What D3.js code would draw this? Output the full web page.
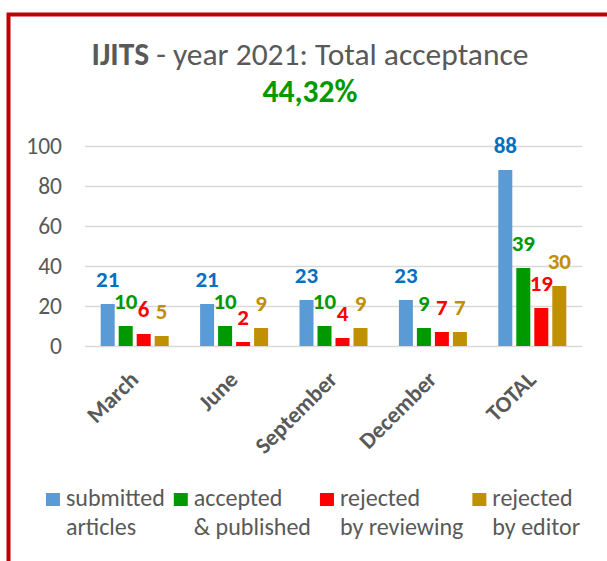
<!DOCTYPE html>
<html lang="en"><head>
<meta charset="UTF-8">
<title>IJITS 2021</title>
<script src="https://cdn.jsdelivr.net/npm/d3@7"></script>
<style>
  body { margin: 0; background: #fff; }
  svg { font-family: Carlito, Lato, sans-serif; }
</style>
</head>
<body>
<div id="chart"></div>
<script>

// values
var categories = ["March", "June", "September", "December", "TOTAL"];
var submitted = [21, 21, 23, 23, 88];
var accepted = [10, 10, 10, 9, 39];
var rejectedReviewing = [6, 2, 4, 7, 19];
var rejectedEditor = [5, 9, 9, 7, 30];
var seriesKeys = ["submitted", "accepted", "rejectedReviewing", "rejectedEditor"];
var legendLines = [["submitted", "articles"], ["accepted", "& published"],
                   ["rejected", "by reviewing"], ["rejected", "by editor"]];
var yTicks = [0, 20, 40, 60, 80, 100];

var barColors = ["#5B9BD5", "#009900", "#FF0000", "#BF9000"];
var labelColors = ["#0070C0", "#009900", "#FF0000", "#BF9000"];
var textGrey = "#595959";

var width = 607, height = 561;

var rows = categories.map(function (c, i) {
  return {cat: c, submitted: submitted[i], accepted: accepted[i],
          rejectedReviewing: rejectedReviewing[i], rejectedEditor: rejectedEditor[i]};
});

var svg = d3.select("#chart").append("svg")
    .attr("width", width)
    .attr("height", height);

// red frame (only the left and top edges are inside the picture)
svg.append("path")
    .attr("d", "M8.5," + height + "V14.5H" + width)
    .attr("fill", "none")
    .attr("stroke", "#C00000")
    .attr("stroke-width", 4);

// title
var title = svg.append("text")
    .attr("x", 310).attr("y", 65)
    .attr("text-anchor", "middle")
    .attr("font-size", 31.5)
    .attr("fill", textGrey);
title.append("tspan").attr("font-weight", "bold").text("IJITS");
title.append("tspan").text(" - year 2021: Total acceptance");

svg.append("text")
    .attr("x", 310).attr("y", 102)
    .attr("text-anchor", "middle")
    .attr("font-size", 31.5)
    .attr("font-weight", "bold")
    .attr("fill", "#009900")
    .text("44,32%");

// scales
var x0 = d3.scaleBand().domain(categories).range([85, 582]).padding(0);
var x1 = d3.scaleBand().domain(seriesKeys).range([-34, 34]).paddingInner(4 / 18).paddingOuter(0);
var y = d3.scaleLinear().domain([0, 100]).range([346, 146]);

// y axis + gridlines
var yAxis = svg.append("g")
    .attr("transform", "translate(85,0)")
    .call(d3.axisLeft(y).tickValues(yTicks).tickSize(-497).tickPadding(23));
yAxis.select(".domain").remove();
yAxis.selectAll(".tick line").attr("stroke", "#D9D9D9").attr("stroke-width", 1.5);
yAxis.selectAll(".tick text")
    .attr("fill", textGrey)
    .attr("font-size", 23.5)
    .attr("font-family", "Carlito, Lato, sans-serif");

// x axis, rotated labels
var xAxis = svg.append("g")
    .attr("transform", "translate(0,346)")
    .call(d3.axisBottom(x0).tickSize(0));
xAxis.select(".domain").remove();
xAxis.selectAll(".tick text")
    .attr("x", 0).attr("y", 0).attr("dy", 0)
    .attr("transform", "translate(5,35) rotate(-45)")
    .attr("text-anchor", "end")
    .attr("fill", textGrey)
    .attr("font-size", 23)
    .attr("font-weight", "bold")
    .attr("font-family", "Carlito, Lato, sans-serif");

// bars
var groups = svg.selectAll(".cat").data(rows).enter().append("g")
    .attr("class", "cat")
    .attr("transform", function (d) { return "translate(" + (x0(d.cat) + x0.bandwidth() / 2) + ",0)"; });

groups.selectAll("rect")
    .data(function (d) { return seriesKeys.map(function (k) { return {key: k, value: d[k]}; }); })
    .enter().append("rect")
    .attr("x", function (d) { return x1(d.key); })
    .attr("y", function (d) { return y(d.value); })
    .attr("width", x1.bandwidth())
    .attr("height", function (d) { return y(0) - y(d.value); })
    .attr("fill", function (d, i) { return barColors[i]; });

groups.selectAll(".lbl")
    .data(function (d) { return seriesKeys.map(function (k) { return {key: k, value: d[k]}; }); })
    .enter().append("text")
    .attr("class", "lbl")
    .attr("x", function (d) { return x1(d.key) + x1.bandwidth() / 2; })
    .attr("y", function (d) { return y(d.value) - 17; })
    .attr("text-anchor", "middle")
    .attr("font-size", 23)
    .attr("font-weight", "bold")
    .attr("fill", function (d, i) { return labelColors[i]; })
    .text(function (d) { return d.value; });

// legend, laid out left to right then centred
var legend = svg.append("g");
var cursor = 0;
legendLines.forEach(function (lines, i) {
  var item = legend.append("g").attr("transform", "translate(" + cursor + ",0)");
  item.append("rect")
      .attr("x", 0).attr("y", -13)
      .attr("width", 14).attr("height", 13)
      .attr("fill", barColors[i]);
  var t = item.append("text")
      .attr("x", 20).attr("y", 0)
      .attr("font-size", 24)
      .attr("fill", textGrey);
  t.selectAll("tspan").data(lines).enter().append("tspan")
      .attr("x", 20)
      .attr("dy", function (d, j) { return j === 0 ? 0 : 29; })
      .text(function (d) { return d; });
  cursor += 20 + t.node().getBBox().width + 9;
});
var legendWidth = cursor - 9;
legend.attr("transform", "translate(" + (313 - legendWidth / 2) + ",506)");

</script>
</body></html>
